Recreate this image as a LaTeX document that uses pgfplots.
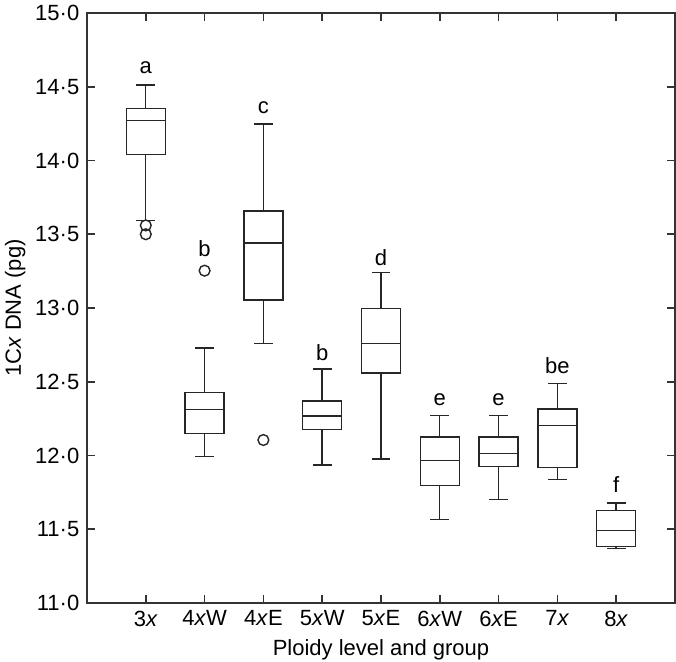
\documentclass[border=0pt]{standalone}
\usepackage{fontspec}
\setmainfont{Liberation Sans}
\usepackage{pgfplots}
\pgfplotsset{compat=1.18}
\usepgfplotslibrary{statistics}
\begin{document}
\fontsize{11}{13}\selectfont
\begin{tikzpicture}
\begin{axis}[
  scale only axis, width=294pt, height=295pt,
  xmin=0, xmax=10, ymin=11, ymax=15,
  xtick={1,2,3,4,5,6,7,8,9},
  xticklabels={3\textit{x},4\textit{x}W,4\textit{x}E,5\textit{x}W,5\textit{x}E,6\textit{x}W,6\textit{x}E,7\textit{x},8\textit{x}},
  ytick={11,11.5,12,12.5,13,13.5,14,14.5,15},
  yticklabels={11·0,11·5,12·0,12·5,13·0,13·5,14·0,14·5,15·0},
  tick align=inside, major tick length=4pt,
  axis line style={black!80, line width=0.8pt},
  tick style={black!80, line width=0.8pt},
  tick label style={font=\fontsize{11}{13}\selectfont},
  label style={font=\fontsize{11}{13}\selectfont},
  xlabel={Ploidy level and group},
  ylabel={1C\textit{x} DNA (pg)},
  xlabel style={at={(axis description cs:0.5,-0.08)}, anchor=center},
  ylabel style={at={(axis description cs:-0.122,0.5)}, anchor=center},
  boxplot/draw direction=y,
  boxplot/box extend=0.66,
  boxplot/whisker extend=0.32,
]
\addplot[black!85, line width=0.7pt, mark=o, mark size=2.7pt, mark options={solid},
  boxplot prepared={draw position=1, median=14.270, upper quartile=14.354, lower quartile=14.039, upper whisker=14.512, lower whisker=13.594}]
  table[row sep=\\, y index=0] {13.56\\13.50\\};
\addplot[black!85, line width=0.7pt, mark=o, mark size=2.7pt,
  boxplot prepared={draw position=2, median=12.313, upper quartile=12.426, lower quartile=12.148, upper whisker=12.729, lower whisker=11.992}]
  table[row sep=\\, y index=0] {13.253\\};
\addplot[black!85, line width=0.7pt, mark=o, mark size=2.7pt,
  boxplot prepared={draw position=3, median=13.441, upper quartile=13.658, lower quartile=13.054, upper whisker=14.247, lower whisker=12.758}]
  table[row sep=\\, y index=0] {12.105\\};
\addplot[black!85, line width=0.7pt,
  boxplot prepared={draw position=4, median=12.268, upper quartile=12.369, lower quartile=12.178, upper whisker=12.586, lower whisker=11.936}]
  coordinates {};
\addplot[black!85, line width=0.7pt,
  boxplot prepared={draw position=5, median=12.761, upper quartile=12.995, lower quartile=12.559, upper whisker=13.239, lower whisker=11.976}]
  coordinates {};
\addplot[black!85, line width=0.7pt,
  boxplot prepared={draw position=6, median=11.965, upper quartile=12.125, lower quartile=11.798, upper whisker=12.272, lower whisker=11.567}]
  coordinates {};
\addplot[black!85, line width=0.7pt,
  boxplot prepared={draw position=7, median=12.015, upper quartile=12.125, lower quartile=11.924, upper whisker=12.272, lower whisker=11.703}]
  coordinates {};
\addplot[black!85, line width=0.7pt,
  boxplot prepared={draw position=8, median=12.205, upper quartile=12.315, lower quartile=11.917, upper whisker=12.487, lower whisker=11.839}]
  coordinates {};
\addplot[black!85, line width=0.7pt,
  boxplot prepared={draw position=9, median=11.493, upper quartile=11.626, lower quartile=11.382, upper whisker=11.678, lower whisker=11.368}]
  coordinates {};
\node at (axis cs:1,14.63) {a};
\node at (axis cs:2,13.40) {b};
\node at (axis cs:3,14.36) {c};
\node at (axis cs:4,12.70) {b};
\node at (axis cs:5,13.34) {d};
\node at (axis cs:6,12.38) {e};
\node at (axis cs:7,12.38) {e};
\node at (axis cs:8,12.61) {be};
\node at (axis cs:9,11.80) {f};
\end{axis}
\pgfresetboundingbox
\path (-43.5pt,-29.5pt) rectangle (294.5pt,301.5pt);
\end{tikzpicture}
\end{document}
